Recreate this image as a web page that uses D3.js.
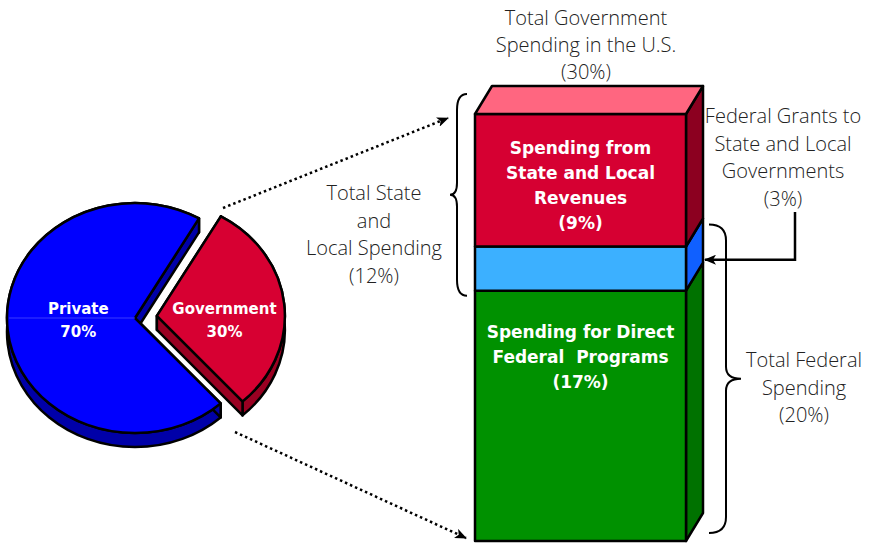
<!DOCTYPE html>
<html>
<head>
<meta charset="utf-8">
<script src="https://cdn.jsdelivr.net/npm/d3@7"></script>
<style>
  body { margin: 0; background: #fff; }
  .light { font-family: "Open Sans", sans-serif; font-weight: 300; font-size: 20px; fill: #222; }
  .bold { font-family: "DejaVu Sans", sans-serif; font-weight: bold; font-size: 17px; fill: #fff; }
  .pielabel { font-size: 15px; }
</style>
</head>
<body>
<div id="svg-container"></div>
<script>
// data
const pieLabels = ["Private", "Government"];
const pieValues = [70, 30];
const pieTop = ["#0000ff", "#d70032"];
const pieSide = ["#0000a8", "#9a0022"];

// stacked from the bottom up
const barLabels = [
  ["Spending for Direct", "Federal  Programs", "(17%)"],
  [],
  ["Spending from", "State and Local", "Revenues", "(9%)"],
];
const barValues = [17, 3, 9];
const barFront = ["#009100", "#3cb0ff", "#d60032"];
const barSide = ["#007200", "#1060ff", "#8c0020"];
const barTopColor = "#ff6680";

const topNote = ["Total Government", "Spending in the U.S.", "(30%)"];
const grantsNote = ["Federal Grants to", "State and Local", "Governments", "(3%)"];
const stateNote = ["Total State", "and", "Local Spending", "(12%)"];
const federalNote = ["Total Federal", "Spending", "(20%)"];

const width = 869, height = 544;
const svg = d3.select("#svg-container").append("svg")
  .attr("width", width).attr("height", height);

svg.append("defs").append("marker")
  .attr("id", "head")
  .attr("viewBox", "0 0 12 10")
  .attr("refX", 11).attr("refY", 5)
  .attr("markerWidth", 12).attr("markerHeight", 10)
  .attr("markerUnits", "userSpaceOnUse")
  .attr("orient", "auto")
  .append("path")
  .attr("d", "M0,0 L12,5 L0,10 L3,5 z")
  .attr("fill", "#000");

////////////////////////////  Pie  ////////////////////////////
const cx = 135, cy = 318, rx = 128, ry = 115, depth = 14;
const sy = ry / rx;
const dz = depth / sy;
const deg = Math.PI / 180;

const pie = d3.pie().sort(null)
  .startAngle(138 * deg)
  .endAngle(498 * deg);
const slices = pie(pieValues);
const explode = [0, 22];
const labelR = [57, 68];

const arc = d3.arc().innerRadius(0).outerRadius(rx);
const pt = (a, r = rx) => [r * Math.sin(a), -r * Math.cos(a)];

slices.forEach((s, i) => {
  const mid = (s.startAngle + s.endAngle) / 2;
  const [ox, oy] = pt(mid, explode[i]);
  const g = svg.append("g")
    .attr("transform", `translate(${cx + ox},${cy + oy * sy}) scale(1,${sy})`);

  // rim
  const p = d3.path();
  const [sx0, sy0] = pt(s.startAngle);
  const [sx1, sy1] = pt(s.endAngle);
  p.moveTo(sx0, sy0);
  p.arc(0, 0, rx, s.startAngle - Math.PI / 2, s.endAngle - Math.PI / 2);
  p.lineTo(sx1, sy1 + dz);
  p.arc(0, dz, rx, s.endAngle - Math.PI / 2, s.startAngle - Math.PI / 2, true);
  p.closePath();
  g.append("path").attr("d", p.toString())
    .attr("fill", pieSide[i]).attr("stroke", "#000")
    .attr("stroke-width", 2.5).attr("vector-effect", "non-scaling-stroke")
    .attr("stroke-linejoin", "round");

  // cut faces
  [s.startAngle, s.endAngle].forEach((a) => {
    const [ex, ey] = pt(a);
    g.append("path")
      .attr("d", `M0,0L${ex},${ey}L${ex},${ey + dz}L0,${dz}Z`)
      .attr("fill", pieSide[i]).attr("stroke", "#000")
      .attr("stroke-width", 2.5).attr("vector-effect", "non-scaling-stroke")
      .attr("stroke-linejoin", "round");
  });

  // top
  g.append("path").attr("d", arc(s))
    .attr("fill", pieTop[i]).attr("stroke", "#000")
    .attr("stroke-width", 2.5).attr("vector-effect", "non-scaling-stroke")
    .attr("stroke-linejoin", "round");

  if (i === 0) {
    // faint seam line in the private slice
    g.append("line").attr("x1", -rx + 2).attr("y1", 0).attr("x2", 0).attr("y2", 0)
      .attr("stroke", "#3a3aff").attr("stroke-width", 1)
      .attr("vector-effect", "non-scaling-stroke");
  }

  const [lx] = pt(mid, labelR[i]);
  const t = svg.append("text").attr("class", "bold pielabel")
    .attr("text-anchor", "middle")
    .attr("x", cx + ox + lx)
    .attr("y", cy - 4);
  t.append("tspan").attr("x", cx + ox + lx).attr("dy", 0).text(pieLabels[i]);
  t.append("tspan").attr("x", cx + ox + lx).attr("dy", 23).text(pieValues[i] + "%");
});

////////////////////////////  Bar  ////////////////////////////
const bx0 = 475, bx1 = 686, ddx = 17, ddy = -28;
const yScale = d3.scaleLinear()
  .domain([0, d3.sum(barValues)])
  .range([541, 114]);

let acc = 0;
const segs = barValues.map((v, i) => {
  const s = { i, y0: yScale(acc), y1: yScale(acc + v) };
  acc += v;
  return s;
});

const barG = svg.append("g")
  .attr("stroke", "#000").attr("stroke-width", 2.5).attr("stroke-linejoin", "round");

segs.forEach((s) => {
  // side
  barG.append("path")
    .attr("d", `M${bx1},${s.y0}L${bx1 + ddx},${s.y0 + ddy}L${bx1 + ddx},${s.y1 + ddy}L${bx1},${s.y1}Z`)
    .attr("fill", barSide[s.i]);
  // front
  barG.append("rect")
    .attr("x", bx0).attr("y", s.y1)
    .attr("width", bx1 - bx0).attr("height", s.y0 - s.y1)
    .attr("fill", barFront[s.i]);
});

const yTop = yScale(d3.sum(barValues));
barG.append("path")
  .attr("d", `M${bx0},${yTop}L${bx0 + ddx},${yTop + ddy}L${bx1 + ddx},${yTop + ddy}L${bx1},${yTop}Z`)
  .attr("fill", barTopColor);

// labels inside bar
const barLabelTop = [47, 0, 40];
segs.forEach((s) => {
  const lines = barLabels[s.i];
  lines.forEach((l, j) => {
    svg.append("text").attr("class", "bold")
      .attr("text-anchor", "middle")
      .attr("x", (bx0 + bx1) / 2)
      .attr("y", s.y1 + barLabelTop[s.i] + j * 25)
      .style("white-space", "pre")
      .text(l);
  });
});

////////////////////////////  Notes  ////////////////////////////
const note = (lines, x, y, lh) => {
  lines.forEach((l, j) => {
    svg.append("text").attr("class", "light")
      .attr("text-anchor", "middle")
      .attr("x", x).attr("y", y + j * lh)
      .text(l);
  });
};
note(topNote, 586, 25, 27);
note(grantsNote, 783, 123, 27.5);
note(stateNote, 374, 200, 27.5);
note(federalNote, 804, 367, 27.5);

// braces
const brace = (x, yA, yB, w, t) => {
  const ym = (yA + yB) / 2;
  const p = d3.path();
  p.moveTo(x, yA);
  p.quadraticCurveTo(x + w, yA, x + w, yA + 16);
  p.lineTo(x + w, ym - 12);
  p.quadraticCurveTo(x + w, ym, x + w + t, ym);
  p.quadraticCurveTo(x + w, ym, x + w, ym + 12);
  p.lineTo(x + w, yB - 16);
  p.quadraticCurveTo(x + w, yB, x, yB);
  return p.toString();
};
const sl = barValues[1] + barValues[2];
svg.append("path")
  .attr("d", brace(467, yTop - 20, yScale(d3.sum(barValues) - sl) + 5, -10, -7))
  .attr("fill", "none").attr("stroke", "#000").attr("stroke-width", 2);
svg.append("path")
  .attr("d", brace(709, yScale(barValues[0] + barValues[1]) - 22, yScale(0) - 8, 17, 15))
  .attr("fill", "none").attr("stroke", "#000").attr("stroke-width", 2);

// grants arrow
const yGrant = yScale(barValues[0]) + ddy - 3;
svg.append("path")
  .attr("d", `M795,212L795,${yGrant}L${bx1 + ddx + 2},${yGrant}`)
  .attr("fill", "none").attr("stroke", "#000").attr("stroke-width", 2.5)
  .attr("marker-end", "url(#head)");

// dotted arrows from the pie to the bar
svg.append("line")
  .attr("x1", 223).attr("y1", 208).attr("x2", 448).attr("y2", 118)
  .attr("stroke", "#000").attr("stroke-width", 2.5).attr("stroke-dasharray", "2.5,3")
  .attr("marker-end", "url(#head)");
svg.append("line")
  .attr("x1", 235).attr("y1", 432).attr("x2", 466).attr("y2", 538)
  .attr("stroke", "#000").attr("stroke-width", 2.5).attr("stroke-dasharray", "2.5,3")
  .attr("marker-end", "url(#head)");
</script>
</body>
</html>
